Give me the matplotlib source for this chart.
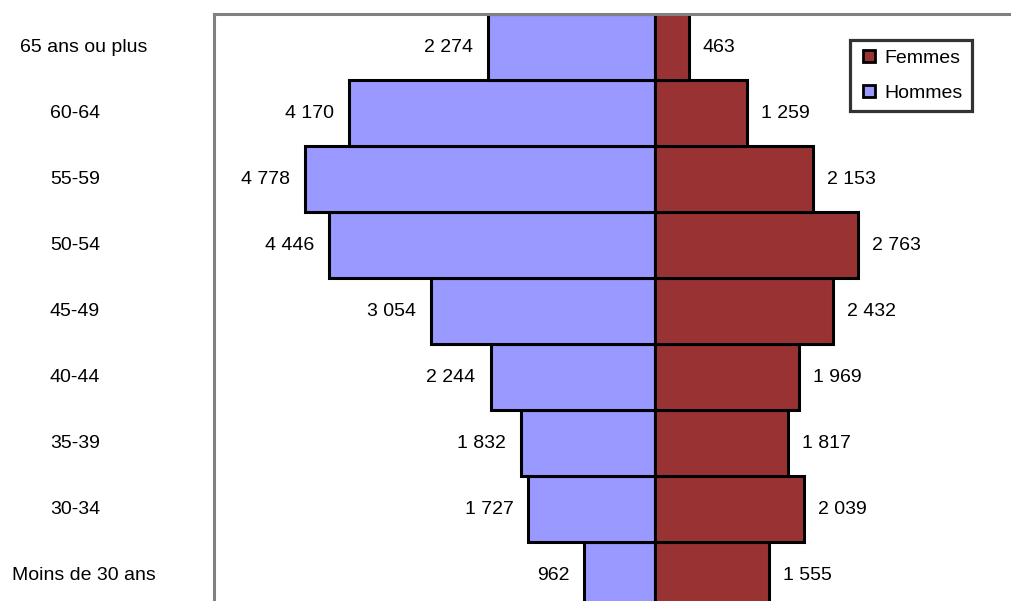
"""Pyramide des ages - Hommes / Femmes"""

import matplotlib.pyplot as plt
from matplotlib.lines import Line2D
from matplotlib import transforms

plt.rcParams['font.family'] = ['Liberation Sans', 'DejaVu Sans']

categories = ['Moins de 30 ans', '30-34', '35-39', '40-44', '45-49',
              '50-54', '55-59', '60-64', '65 ans ou plus']
hommes = [962, 1727, 1832, 2244, 3054, 4446, 4778, 4170, 2274]
femmes = [1555, 2039, 1817, 1969, 2432, 2763, 2153, 1259, 463]

col_h = '#9999FF'
col_f = '#993333'


def fmt(v):
    return f'{v:,}'.replace(',', ' ')


fig = plt.figure(figsize=(10.12, 6.01), dpi=100)
ax = fig.add_axes([214 / 1012, -7 / 601, 1 - 214 / 1012 + 0.01, 594 / 601])

y = list(range(len(categories)))
ax.barh(y, [-v for v in hommes], height=1.0, color=col_h,
        edgecolor='black', linewidth=2.2)
ax.barh(y, femmes, height=1.0, color=col_f,
        edgecolor='black', linewidth=2.2)

for i in y:
    ax.annotate(fmt(hommes[i]), (-hommes[i], i), xytext=(-15, 0),
                textcoords='offset pixels', ha='right', va='center',
                fontsize=14)
    ax.annotate(fmt(femmes[i]), (femmes[i], i), xytext=(14, 0),
                textcoords='offset pixels', ha='left', va='center',
                fontsize=14)

ax.set_xlim(-6016, 4870 + 0.01 * 1012 / 0.0733)
ax.set_ylim(-0.5, len(categories) - 0.5)
ax.set_xticks([])
ax.set_yticks([])

# category labels, placed in the area left of the plot
trans = transforms.blended_transform_factory(fig.transFigure, ax.transData)
for i, cat in enumerate(categories):
    xc = 84 if ' ' in cat else 75
    ax.text(xc / 1012, i, cat, transform=trans, ha='center', va='center',
            fontsize=14, clip_on=False)

for s in ['right', 'bottom']:
    ax.spines[s].set_visible(False)
for s in ['top', 'left']:
    ax.spines[s].set_color('#808080')
    ax.spines[s].set_linewidth(2.2)

handles = [
    Line2D([], [], linestyle='none', marker='s', markersize=8,
           markerfacecolor=col_f, markeredgecolor='black', markeredgewidth=2),
    Line2D([], [], linestyle='none', marker='s', markersize=8,
           markerfacecolor=col_h, markeredgecolor='black', markeredgewidth=2),
]
leg = fig.legend(handles, ['Femmes', 'Hommes'], loc='upper left',
                 bbox_to_anchor=(850 / 1012, 1 - 40 / 601), fontsize=14,
                 frameon=True, fancybox=False, handlelength=1.0,
                 handletextpad=0.3, labelspacing=0.9, borderpad=0.47,
                 borderaxespad=0)
leg.get_frame().set_edgecolor('black')
leg.get_frame().set_linewidth(2.3)

fig.savefig('out.png', dpi=100)
